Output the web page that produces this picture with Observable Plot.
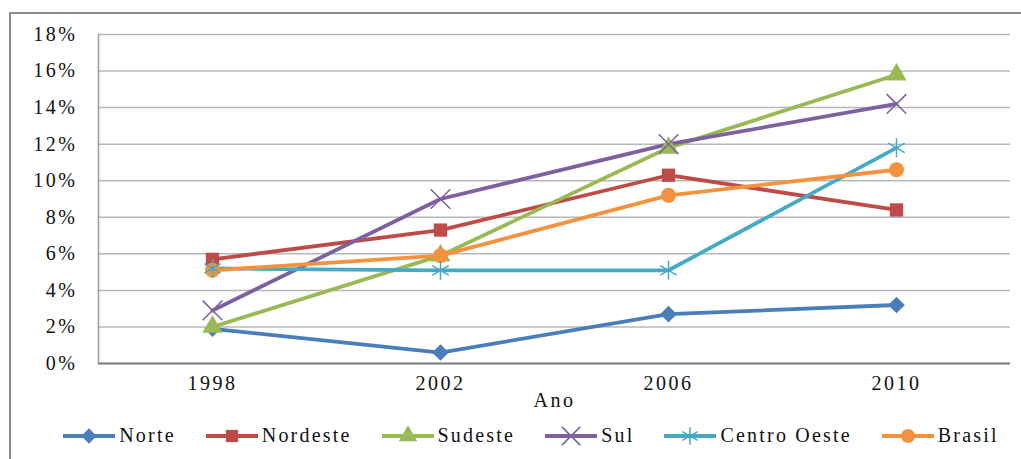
<!DOCTYPE html>
<html><head><meta charset="utf-8">
<script src="https://cdn.jsdelivr.net/npm/d3@7"></script>
<script src="https://cdn.jsdelivr.net/npm/@observablehq/plot@0.6"></script>
<style>
body{margin:0;background:#fff;font-family:"Liberation Serif","Times New Roman",serif;}
#wrap{position:relative;width:1021px;height:459px;overflow:hidden;background:#fff;}
#frame{position:absolute;left:9px;top:12px;width:1100px;height:500px;border:2px solid #8c8c8c;box-sizing:border-box;}
#chart{position:absolute;left:0;top:0;}
#legend{position:absolute;top:424px;left:0;width:1062px;display:flex;justify-content:center;align-items:center;gap:30px;font-size:20px;letter-spacing:2.2px;color:#111;}
.item{display:flex;align-items:center;gap:4px;}
</style></head>
<body>
<div id="wrap">
  <div id="frame"></div>
  <div id="chart"></div>
  <div id="legend"></div>
</div>
<script>
const years = ["1998", "2002", "2006", "2010"];
const seriesNames = ["Norte", "Nordeste", "Sudeste", "Sul", "Centro Oeste", "Brasil"];
const norte = [1.9, 0.6, 2.7, 3.2];
const nordeste = [5.7, 7.3, 10.3, 8.4];
const sudeste = [2.0, 5.9, 11.8, 15.8];
const sul = [2.9, 9.0, 12.0, 14.2];
const centroOeste = [5.2, 5.1, 5.1, 11.8];
const brasil = [5.1, 5.9, 9.2, 10.6];
const yTicks = [0, 2, 4, 6, 8, 10, 12, 14, 16, 18];

const colors = ["#4a7ebb", "#be4b48", "#98b954", "#7d60a0", "#46aac5", "#f5923e"];
const symbols = ["diamond2", "square", "triangle", "times", "asterisk", "circle"];
const filled = [true, true, true, false, false, true];
const values = [norte, nordeste, sudeste, sul, centroOeste, brasil];

const data = [];
seriesNames.forEach((s, i) => years.forEach((y, j) => data.push({serie: s, ano: y, v: values[i][j], idx: i})));

const chart = Plot.plot({
  width: 1021,
  height: 410,
  marginLeft: 98,
  marginRight: 11,
  marginTop: 34,
  marginBottom: 47,
  style: {fontFamily: "'Liberation Serif','Times New Roman',serif", fontSize: "20px", color: "#111", background: "transparent", letterSpacing: "2.5px"},
  x: {type: "point", domain: years, padding: 0.5},
  y: {domain: [0, 18]},
  color: {domain: seriesNames, range: colors},
  symbol: {domain: seriesNames, range: symbols},
  marks: [
    Plot.gridY(yTicks, {stroke: "#b8b8b8", strokeOpacity: 1, strokeWidth: 1.5}),
    Plot.frame({anchor: "left", stroke: "#9a9a9a", strokeWidth: 1.5}),
    Plot.ruleY([0], {stroke: "#7f7f7f", strokeWidth: 2}),
    Plot.axisY(yTicks, {tickSize: 0, tickPadding: 21, tickFormat: d => d + "%", label: null}),
    Plot.axisX({tickSize: 0, tickPadding: 12, label: "Ano", labelAnchor: "center", labelOffset: 43}),
    Plot.line(data, {x: "ano", y: "v", z: "serie", stroke: "serie", strokeWidth: 3.8}),
    Plot.dot(data.filter(d => filled[d.idx]), {x: "ano", y: "v", symbol: "serie", fill: "serie", r: 7.5}),
    Plot.dot(data.filter(d => !filled[d.idx]), {x: "ano", y: "v", symbol: "serie", stroke: "serie", strokeWidth: 1.5, r: 9})
  ]
});
document.getElementById("chart").appendChild(chart);

const legend = document.getElementById("legend");
seriesNames.forEach((s, i) => {
  const item = document.createElement("div");
  item.className = "item";
  const sw = d3.create("svg").attr("width", 52).attr("height", 20);
  sw.append("line").attr("x1", 0).attr("x2", 52).attr("y1", 10).attr("y2", 10).attr("stroke", colors[i]).attr("stroke-width", 3.8);
  const sym = {diamond2: d3.symbolDiamond2, square: d3.symbolSquare, triangle: d3.symbolTriangle, times: d3.symbolTimes, asterisk: d3.symbolAsterisk, circle: d3.symbolCircle}[symbols[i]];
  const p = sw.append("path").attr("transform", "translate(26,10)").attr("d", d3.symbol(sym, filled[i] ? 150 : 220)());
  if (filled[i]) p.attr("fill", colors[i]); else p.attr("fill", "none").attr("stroke", colors[i]).attr("stroke-width", 1.5);
  item.appendChild(sw.node());
  const t = document.createElement("span");
  t.textContent = s;
  item.appendChild(t);
  legend.appendChild(item);
});
</script>
</body></html>
